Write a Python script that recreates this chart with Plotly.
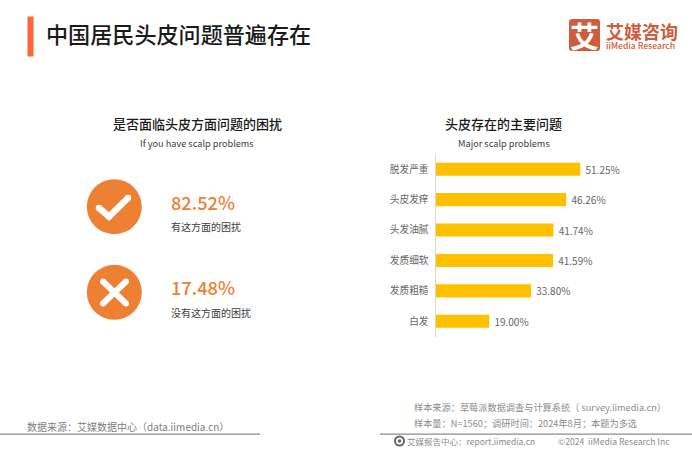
import plotly.graph_objects as go

W, H = 692, 450
FONT = "Noto Sans CJK SC"

categories = ["脱发严重", "头皮发痒", "头发油腻", "发质细软", "发质粗糙", "白发"]
shares = [51.25, 46.26, 41.74, 41.59, 33.80, 19.00]
yes_value = "82.52%"
no_value = "17.48%"
yes_label = "有这方面的困扰"
no_label = "没有这方面的困扰"
title_text = "中国居民头皮问题普遍存在"
left_title = "是否面临头皮方面问题的困扰"
left_sub = "If you have scalp problems"
right_title = "头皮存在的主要问题"
right_sub = "Major scalp problems"
source_left = "数据来源：艾媒数据中心（data.iimedia.cn）"
sample_1 = "样本来源：草莓派数据调查与计算系统（ survey.iimedia.cn）"
sample_2 = "样本量：N=1560；调研时间：2024年8月；本题为多选"
foot_1 = "艾媒报告中心：report.iimedia.cn"
foot_2 = "©2024  iiMedia Research Inc"

ORANGE = "#EE8034"
BAR = "#FFC000"


def px(x):
    return x / W


def py(y):
    return 1 - y / H


fig = go.Figure(go.Bar(
    x=shares, y=categories, orientation="h",
    marker=dict(color=BAR, line=dict(width=0)),
    width=0.43,
    text=[f"{v:.2f}%" for v in shares],
    texttemplate="\u00a0%{text}",
    textposition="outside", cliponaxis=False, constraintext="none",
    textfont=dict(family=FONT, size=10, color="#666666"),
    hoverinfo="skip",
))

fig.update_xaxes(domain=[px(435.5), px(605)], range=[0, 60], visible=False)
fig.update_yaxes(
    domain=[py(336.5), py(154)], autorange="reversed", showgrid=False,
    showline=True, linecolor="#D9D9D9", linewidth=1, ticks="",
    zeroline=False, ticklabelstandoff=4,
    tickfont=dict(family=FONT, size=9.7, color="#666666"),
)


def add_text(x, y, text, size, color, anchor="left", weight=None):
    font = dict(family=FONT, size=size, color=color)
    if weight:
        font["weight"] = weight
    fig.add_annotation(x=px(x), y=py(y), xref="paper", yref="paper", text=text,
                       showarrow=False, xanchor=anchor, yanchor="middle",
                       font=font, borderpad=0, borderwidth=0)


def rect(x0, y0, x1, y1, color):
    fig.add_shape(type="rect", xref="paper", yref="paper",
                  x0=px(x0), x1=px(x1), y0=py(y0), y1=py(y1),
                  fillcolor=color, line_width=0, layer="below")


def circle(cx, cy, r, color):
    fig.add_shape(type="circle", xref="paper", yref="paper",
                  x0=px(cx - r), x1=px(cx + r), y0=py(cy - r), y1=py(cy + r),
                  fillcolor=color, line_width=0)


def stroke(pts, width, color="white"):
    path = "M " + " L ".join(f"{px(a):.5f} {py(b):.5f}" for a, b in pts)
    fig.add_shape(type="path", xref="paper", yref="paper", path=path,
                  line=dict(color=color, width=width), layer="above")
    for a, b in pts:
        circle(a, b, width / 2, color)


# title block
rect(27.5, 16.5, 33.5, 56.5, "#FF6536")
add_text(45.5, 33, title_text, 22.1, "#1A1A1A", weight=500)

# logo
fig.add_shape(type="path", xref="paper", yref="paper", line_width=0, fillcolor="#CF5C3C",
              path=("M {} {} L {} {} Q {} {} {} {} L {} {} Q {} {} {} {} L {} {} Q {} {} {} {} L {} {} Q {} {} {} {} Z").format(
                  px(572), py(19), px(597), py(19), px(600), py(19), px(600), py(22),
                  px(600), py(48), px(600), py(51), px(597), py(51),
                  px(572), py(51), px(569), py(51), px(569), py(48),
                  px(569), py(22), px(569), py(19), px(572), py(19)))
add_text(584.5, 35, "艾", 29, "#FFFFFF", anchor="center", weight=700)
add_text(605.5, 31, "艾媒咨询", 18, "#CF5C3C", weight=700)
add_text(606, 45, "iiMedia Research", 8.6, "#CF5C3C", weight=500)

# left panel
add_text(197.5, 123.5, left_title, 13, "#1A1A1A", anchor="center", weight=500)
add_text(197, 142.5, left_sub, 9.2, "#404040", anchor="center")
circle(114.3, 206.7, 27.5, ORANGE)
stroke([(99, 208), (109, 216.5), (128, 198)], 6.5)
add_text(171, 201.5, yes_value, 18.2, ORANGE, weight=500)
add_text(171, 226.5, yes_label, 10, "#404040")
circle(114.3, 292.3, 27.5, ORANGE)
stroke([(103, 281.5), (126, 303.5)], 6)
stroke([(126, 281.5), (103, 303.5)], 6)
add_text(171, 287, no_value, 18.2, ORANGE, weight=500)
add_text(171, 312, no_label, 10, "#404040")

# right panel
add_text(503.5, 123.5, right_title, 13, "#1A1A1A", anchor="center", weight=500)
add_text(503.5, 142.5, right_sub, 9.2, "#404040", anchor="center")

# footer
add_text(27, 426, source_left, 10, "#808080")
add_text(414, 406.5, sample_1, 9.2, "#8C8C8C")
add_text(414, 423, sample_2, 9.2, "#8C8C8C")
rect(0, 433.5, 260, 434.7, "#8C8C8C")
rect(380, 433.5, 692, 434.7, "#8C8C8C")
circle(399.5, 441, 5.5, "#666666")
circle(399.5, 441, 3.5, "#FFFFFF")
circle(399.5, 441, 1.8, "#666666")
add_text(407, 441, foot_1, 8.5, "#8C8C8C")
add_text(558, 441, foot_2, 8.6, "#8C8C8C")

fig.update_layout(
    width=W, height=H, margin=dict(l=0, r=0, t=0, b=0, autoexpand=False),
    paper_bgcolor="white", plot_bgcolor="white", showlegend=False,
    font=dict(family=FONT),
)

fig.write_html("out.html", config=dict(displayModeBar=False),
               post_script="document.body.style.margin='0';document.body.style.overflow='hidden';")
